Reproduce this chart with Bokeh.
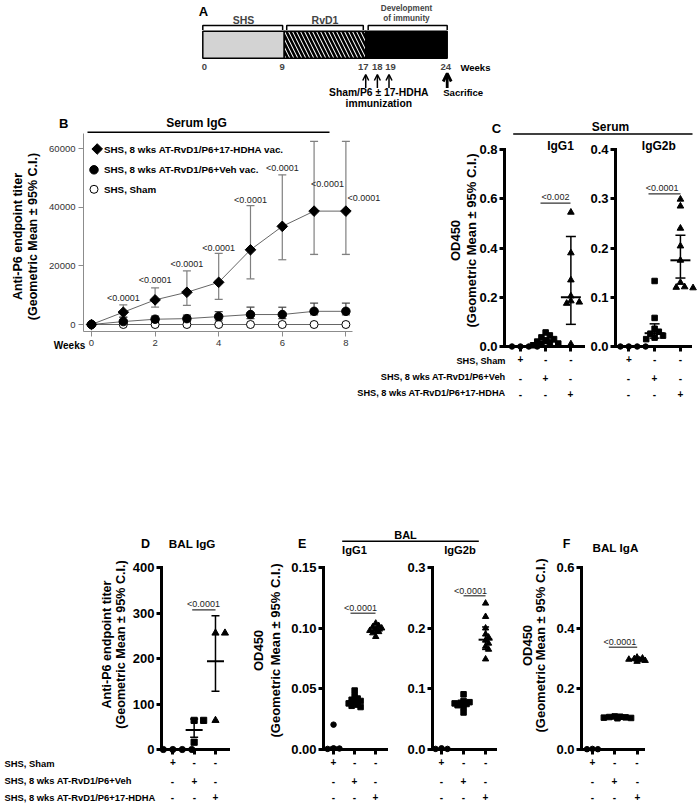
import math
import numpy as np
from bokeh.plotting import figure
from bokeh.models import (Range1d, FixedTicker, Label, ColumnDataSource, Whisker, TeeHead,
                          Arrow, OpenHead, LinearAxis, BasicTickFormatter, PrintfTickFormatter)
from bokeh.embed import file_html
from bokeh.resources import INLINE

FONT = "Liberation Sans"

# ---------------- data ----------------
# A: study timeline (weeks)
a_phase_edges = [0, 9, 17, 24]
a_phase_names = ["SHS", "RvD1"]
a_week_ticks = [0, 9, 17, 18, 19, 24]
a_immunization = [17, 18, 19]
a_sacrifice = 24

# B: serum IgG endpoint titer over time
b_weeks = [0, 1, 2, 3, 4, 5, 6, 7, 8]
b_hdha = [0, 4200, 8400, 11000, 14400, 25500, 33500, 38700, 38700]
b_hdha_lo = [0, 2400, 5900, 6500, 8600, 15600, 22100, 23900, 23900]
b_hdha_hi = [0, 6700, 12500, 18300, 24300, 40600, 51100, 62500, 62500]
b_veh = [0, 1000, 1800, 2000, 2700, 3400, 3400, 4500, 4500]
b_veh_lo = [0, 300, 900, 1100, 1500, 2000, 2000, 3300, 3300]
b_veh_hi = [0, 2500, 2900, 3200, 4400, 5900, 5900, 7300, 7300]
b_sham = [0, 0, 0, 0, 0, 0, 0, 0, 0]
b_pvals = ["<0.0001"] * 8
b_legend = ["SHS, 8 wks AT-RvD1/P6+17-HDHA vac.", "SHS, 8 wks AT-RvD1/P6+Veh vac.", "SHS, Sham"]
b_yticks = [0, 20000, 40000, 60000]
b_xticks = [0, 2, 4, 6, 8]

groups = ["SHS, Sham", "SHS, 8 wks AT-RvD1/P6+Veh", "SHS, 8 wks AT-RvD1/P6+17-HDHA"]

# C: serum IgG1 / IgG2b OD450
c1_vals = [[0, 0, 0, 0],
           [0.057, 0.045, 0.037, 0.030, 0.025, 0.020, 0.016, 0.012, 0.008, 0.005],
           [0.545, 0.38, 0.27, 0.205, 0.185, 0.18, 0.175, 0.01]]
c1_mean = [0, 0.02, 0.20]
c1_lo = [0, 0.012, 0.09]
c1_hi = [0, 0.03, 0.447]
c1_p = "<0.002"
c1_yticks = [0, 0.2, 0.4, 0.6, 0.8]

c2_vals = [[0, 0, 0, 0],
           [0.133, 0.058, 0.036, 0.030, 0.026, 0.022, 0.018, 0.015],
           [0.299, 0.285, 0.24, 0.204, 0.175, 0.13, 0.121, 0.12, 0.119]]
c2_mean = [0, 0.027, 0.175]
c2_lo = [0, 0.017, 0.139]
c2_hi = [0, 0.046, 0.226]
c2_p = "<0.0001"
c2_yticks = [0, 0.1, 0.2, 0.3, 0.4]

# D: BAL IgG titer
d_vals = [[0, 0, 0, 0],
          [64, 64, 16],
          [256, 256, 64]]
d_mean = [0, 43, 194]
d_lo = [0, 27, 128]
d_hi = [0, 67, 294]
d_p = "<0.0001"
d_yticks = [0, 100, 200, 300, 400]

# E: BAL IgG1 / IgG2b OD450
e1_vals = [[0.0205, 0.001, 0.0008, 0.0005],
           [0.0486, 0.044, 0.042, 0.041, 0.040, 0.039, 0.038, 0.037, 0.036, 0.035],
           [0.104, 0.102, 0.101, 0.100, 0.099, 0.098, 0.097, 0.096, 0.093]]
e1_mean = [0.001, 0.040, 0.098]
e1_lo = [0, 0.038, 0.096]
e1_hi = [0.002, 0.042, 0.100]
e1_p = "<0.0001"
e1_yticks = [0, 0.05, 0.10, 0.15]

e2_vals = [[0.002, 0.001, 0.001],
           [0.091, 0.080, 0.078, 0.077, 0.076, 0.075, 0.073, 0.070, 0.061],
           [0.241, 0.219, 0.200, 0.190, 0.185, 0.180, 0.175, 0.170, 0.165, 0.149]]
e2_mean = [0.001, 0.076, 0.181]
e2_lo = [0, 0.071, 0.165]
e2_hi = [0.002, 0.080, 0.202]
e2_p = "<0.0001"
e2_yticks = [0, 0.1, 0.2, 0.3]

# F: BAL IgA OD450
f_vals = [[0.002, 0.001, 0.001],
          [0.109, 0.108, 0.107, 0.106, 0.105, 0.104, 0.103],
          [0.304, 0.301, 0.299, 0.297, 0.295, 0.293, 0.290]]
f_mean = [0.001, 0.106, 0.297]
f_lo = [0, 0.104, 0.292]
f_hi = [0.002, 0.108, 0.302]
f_p = "<0.0001"
f_yticks = [0, 0.2, 0.4, 0.6]

# ---------------- page figure ----------------
W, H = 698, 805
X0, Y0 = 0, 0          # page offset of the canvas
p = figure(width=W, height=H, x_range=Range1d(X0, X0 + W), y_range=Range1d(Y0 + H, Y0),
           x_axis_location=None, y_axis_location=None, min_border=0,
           output_backend="svg", toolbar_location=None)
p.outline_line_color = None
p.xgrid.visible = False
p.ygrid.visible = False

ex, ey = {}, {}


def add_panel(name, frame, xr, yr=None):
    """frame = (left, top, right, bottom) in page px of the data area."""
    fx0, fy0, fx1, fy1 = frame
    ppx = (fx1 - fx0) / (xr[1] - xr[0])
    xs = xr[0] - (fx0 - X0) / ppx
    ex[name] = Range1d(xs, xs + W / ppx)
    ppy = None
    if yr is not None:
        ppy = (fy1 - fy0) / (yr[1] - yr[0])
        ys = yr[0] - (Y0 + H - fy1) / ppy
        ey[name] = Range1d(ys, ys + H / ppy)
    return ppx, ppy


def T(px, py, text, size, bold=True, align="center", angle=0.0, color="black"):
    p.add_layout(Label(x=px, y=py, text=text, text_font=FONT, text_font_size=f"{size}px",
                       text_font_style="bold" if bold else "normal", text_align=align,
                       text_baseline="middle", angle=angle, text_color=color))


def HL(px0, px1, py, width=1.5, color="black"):
    p.segment(x0=[px0], x1=[px1], y0=[py], y1=[py], line_width=width, line_color=color)


def swarm(vals, center, ppu_x, ppu_y, d, tight):
    placed, xs = [], []
    for v in vals:
        py = v * ppu_y
        off = 0.0
        for k in range(0, 40):
            off = 0.0 if k == 0 else ((k + 1) // 2) * (1 if k % 2 else -1) * d * tight * 0.9
            if all((off - qx) ** 2 + (py - qy) ** 2 >= (d * tight) ** 2 for qx, qy in placed):
                break
        placed.append((off, py))
        xs.append(center + off / ppu_x)
    return xs


def dot_panel(name, frame, xr, ymax, yticks, fmt, vals, mean, lo, hi,
              pbar, ptxt, ptext, row1_standoff, msize=6.5, mean_hw=10, cap=10, tight=0.85,
              tri=1.15):
    ppx, ppy = add_panel(name, frame, xr, (0, ymax))
    rn = dict(x_range_name=name, y_range_name=name)
    yax = LinearAxis(fixed_location=xr[0], bounds=(0, ymax), ticker=FixedTicker(ticks=yticks),
                     formatter=PrintfTickFormatter(format=fmt), **rn)
    xax = LinearAxis(fixed_location=0, bounds=(xr[0], xr[1]), ticker=FixedTicker(ticks=[1, 2, 3]),
                     major_label_overrides={1: "+", 2: "-", 3: "-"}, **rn)
    for ax in (xax, yax):
        ax.axis_line_width = 3
        ax.axis_line_color = "black"
        ax.axis_line_cap = "square"
        ax.major_tick_line_width = 3
        ax.major_tick_line_color = "black"
        ax.major_tick_out = 5
        ax.major_tick_in = 0
        ax.minor_tick_line_color = None
        ax.major_label_text_font = FONT
        ax.major_label_text_font_style = "bold"
        ax.major_label_text_color = "black"
    yax.major_label_text_font_size = "13px"
    yax.major_label_standoff = 2
    xax.major_label_text_font_size = "10px"
    xax.major_label_standoff = row1_standoff

    markers = ["circle", "square", "triangle"]
    for gi, vs in enumerate(vals):
        xs = swarm(vs, gi + 1, ppx, ppy, msize, tight)
        sz = msize * (tri if markers[gi] == "triangle" else 1.0)
        p.scatter(xs, vs, marker=markers[gi], size=sz, color="black", **rn)
    hw = mean_hw / ppx
    src = ColumnDataSource(dict(x=[1, 2, 3], lo=lo, hi=hi, mean=mean,
                                x0=[g - hw for g in (1, 2, 3)], x1=[g + hw for g in (1, 2, 3)]))
    p.segment(x0="x0", x1="x1", y0="mean", y1="mean", source=src, line_width=2, color="black", **rn)
    p.add_layout(Whisker(source=src, base="x", lower="lo", upper="hi", line_width=1.5,
                         line_color="black",
                         upper_head=TeeHead(size=cap, line_width=1.5, line_color="black"),
                         lower_head=TeeHead(size=cap, line_width=1.5, line_color="black"), **rn))
    p.add_layout(xax, "below")
    p.add_layout(yax, "left")
    # significance bar + p value
    HL(pbar[0], pbar[1], pbar[2], width=1.2, color="#333333")
    T(ptxt[0], ptxt[1], ptext, 9, bold=False, color="#222222")
    return ppx


def table_rows(xs_px, rows_py, size=10):
    # rows 2 and 3 of the +/- table (row 1 is the x-axis tick labels)
    for r, py in enumerate(rows_py):
        for g, px in enumerate(xs_px):
            T(round(px), round(py), "+" if (r + 1) == g else "-", size)


# ---------------- A ----------------
A_L, A_R = 202.3, 446.7
ppu_a, _ = add_panel("a", (A_L, 30.7, A_R, 57.7), (0, 3))


def wk2u(w):
    return float(np.interp(w, a_phase_edges, [0, 1, 2, 3]))


u_edges = [wk2u(w) for w in a_phase_edges]
fills = ["#d3d3d3", "white", "black"]
for i in range(3):
    kw = dict(hatch_pattern="left_diagonal_line", hatch_color="black", hatch_scale=8,
              hatch_weight=2.6) if i == 1 else {}
    p.quad(left=u_edges[i], right=u_edges[i + 1], top=30.7, bottom=57.7, fill_color=fills[i],
           line_color="black", line_width=1.5, x_range_name="a", **kw)
brk = [(u_edges[0], u_edges[1] - 0.02), (u_edges[1] + 0.03, u_edges[2] - 0.03),
       (u_edges[2] + 0.03, u_edges[3])]
p.multi_line([[a, a, b, b] for a, b in brk], [[29.5, 25, 25, 29.5]] * 3,
             line_color="black", line_width=1.5, x_range_name="a")
for i, name in enumerate(a_phase_names):
    p.add_layout(Label(x=(u_edges[i] + u_edges[i + 1]) / 2, y=19.5, text=name, text_font=FONT,
                       text_font_size="10.5px", text_font_style="bold", text_align="center",
                       text_baseline="middle", x_range_name="a"))
for j, line in enumerate(["Development", "of immunity"]):
    p.add_layout(Label(x=(u_edges[2] + u_edges[3]) / 2, y=7.5 + 10.8 * j, text=line, text_font=FONT,
                       text_font_size="8.2px", text_font_style="bold", text_align="center",
                       text_baseline="middle", x_range_name="a"))
nudge_px = {17: -2.5, 19: 1.5, 9: -2.0, 24: -1.5, 0: 1.5}
for w in a_week_ticks:
    p.add_layout(Label(x=wk2u(w) + nudge_px.get(w, 0) / ppu_a, y=66.7, text=str(w), text_font=FONT,
                       text_font_size="9.5px", text_font_style="bold", text_align="center",
                       text_baseline="middle", x_range_name="a"))
T(460, 66.7, "Weeks", 9.5, align="left")
T(203, 10.7, "A", 13)
for w in a_immunization:
    p.add_layout(Arrow(x_start=wk2u(w), y_start=87.5, x_end=wk2u(w), y_end=74, x_range_name="a",
                       line_width=1.5, end=OpenHead(size=6, line_width=1.5)))
p.add_layout(Arrow(x_start=wk2u(a_sacrifice), y_start=87.5, x_end=wk2u(a_sacrifice), y_end=73,
                   x_range_name="a", line_width=2.8, end=OpenHead(size=8, line_width=2.8)))
T(378.3, 91.7, "Sham/P6 ± 17-HDHA", 10.3)
T(378.3, 103.3, "immunization", 10.3)
T(462.7, 91.7, "Sacrifice", 9.6)

# ---------------- B ----------------
bxr, byr = (-0.2516, 8.208), (-2389, 65188)
add_panel("b", (83, 133, 352, 331), bxr, byr)
rb = dict(x_range_name="b", y_range_name="b")
bx_ax = LinearAxis(fixed_location=byr[0], bounds=bxr, ticker=FixedTicker(ticks=b_xticks), **rb)
by_ax = LinearAxis(fixed_location=bxr[0], bounds=byr, ticker=FixedTicker(ticks=b_yticks),
                   formatter=BasicTickFormatter(use_scientific=False), **rb)
for ax in (bx_ax, by_ax):
    ax.axis_line_color = "#8c8c8c"
    ax.axis_line_width = 1
    ax.major_tick_line_color = "#8c8c8c"
    ax.major_tick_out = 5
    ax.major_tick_in = 0
    ax.minor_tick_line_color = None
    ax.major_label_text_font = FONT
    ax.major_label_text_font_size = "9.5px"
    ax.major_label_text_color = "#333333"
    ax.major_label_standoff = 3
p.add_layout(bx_ax, "below")
p.add_layout(by_ax, "left")

for ys in (b_sham, b_veh, b_hdha):
    p.line(b_weeks, ys, line_color="#666666", line_width=1, **rb)
for mid, lo, hi, col in ((b_hdha, b_hdha_lo, b_hdha_hi, "#808080"),
                         (b_veh, b_veh_lo, b_veh_hi, "#444444")):
    s = ColumnDataSource(dict(x=b_weeks[1:], lo=lo[1:], hi=hi[1:]))
    p.add_layout(Whisker(source=s, base="x", lower="lo", upper="hi", line_color=col, line_width=1.2,
                         level="underlay",
                         upper_head=TeeHead(size=8, line_color=col, line_width=1.2),
                         lower_head=TeeHead(size=8, line_color=col, line_width=1.2), **rb))
p.scatter(b_weeks, b_sham, marker="circle", size=8, fill_color="white", line_color="black",
          line_width=1, **rb)
p.scatter(b_weeks, b_veh, marker="circle", size=8.5, color="black", **rb)
p.scatter(b_weeks, b_hdha, marker="square", angle=math.pi / 4, size=7.5, color="black", **rb)

b_plabel_px = [(122.8, 297), (154.6, 279), (186.4, 263), (218.2, 247), (250, 199), (281.8, 167),
               (327, 183), (347, 197)]
for i, (t, (px, py)) in enumerate(zip(b_pvals, b_plabel_px)):
    T(px, py, t, 9, bold=False, align="left" if i == 7 else "center", color="#222222")

leg_px = [(96.7, 148.5), (93.5, 169.3), (93.5, 188.8)]
p.scatter([leg_px[0][0]], [leg_px[0][1]], marker="square", angle=math.pi / 4, size=7.5, color="black")
p.scatter([leg_px[1][0]], [leg_px[1][1]], marker="circle", size=8.5, color="black")
p.scatter([leg_px[2][0]], [leg_px[2][1]], marker="circle", size=8, fill_color="white",
          line_color="black")
for t, (px, py) in zip(b_legend, leg_px):
    T(103.5, py, t, 9.8, align="left")

T(63.3, 123.3, "B", 13)
T(196, 122.7, "Serum IgG", 12)
HL(87, 329, 131.7)
T(69, 345, "Weeks", 10)
T(17, 236, "Anti-P6 endpoint titer", 12.5, angle=math.pi / 2)
T(32, 236, "(Geometric Mean ± 95% C.I.)", 12.5, angle=math.pi / 2)

# ---------------- C ----------------
c_rows = [360, 376.7, 392.7]
dot_panel("c1", (504, 149, 583, 346), (0.37, 3.5), 0.8, c1_yticks, "%.1f", c1_vals, c1_mean,
          c1_lo, c1_hi, (540, 570, 202.7), (555, 196.5), c1_p, row1_standoff=3, msize=5.5,
          tri=1.2)
dot_panel("c2", (615, 149, 690, 346), (0.485, 3.39), 0.4, c2_yticks, "%.1f", c2_vals, c2_mean,
          c2_lo, c2_hi, (648, 680, 193.3), (661.7, 187.5), c2_p, row1_standoff=3, msize=5.5,
          tri=1.2)
T(496, 128.3, "C", 13)
T(610, 126, "Serum", 12)
HL(512.7, 692, 133.5)
T(560, 145, "IgG1", 12)
T(658.3, 145, "IgG2b", 12)
T(455, 240, "OD450", 13, angle=math.pi / 2)
T(471, 240, "(Geometric Mean ± 95% C.I.)", 13, angle=math.pi / 2)
for g, py in zip(groups, c_rows):
    T(505, py, g, 9.2, align="right")
table_rows([520, 545.2, 570.4], c_rows[1:])
table_rows([628.3, 654, 679.8], c_rows[1:])

# ---------------- D / E / F ----------------
bottom_rows = [763.3, 780, 796.5]
dot_panel("d", (161, 567, 228, 749), (0.47, 3.61), 400, d_yticks, "%d", d_vals, d_mean, d_lo, d_hi,
          (191.7, 215, 609.3), (203, 603.5), d_p, row1_standoff=3, msize=6.2, mean_hw=8.5, cap=8)
T(145, 543.3, "D", 12.5)
T(191.7, 543.3, "BAL IgG", 11.7)
T(106, 644, "Anti-P6 endpoint titer", 12.6, angle=math.pi / 2)
T(120, 644, "(Geometric Mean ± 95% C.I.)", 12.6, angle=math.pi / 2)
for g, py in zip(groups, bottom_rows):
    T(4, py, g, 9.4, align="left")
table_rows([172.3, 193.6, 214.9], bottom_rows[1:])

dot_panel("e1", (323, 567, 386, 749), (0.524, 3.51), 0.15, e1_yticks, "%.2f", e1_vals, e1_mean,
          e1_lo, e1_hi, (350, 375, 612.7), (360, 607), e1_p, row1_standoff=3, msize=5.5,
          mean_hw=7, cap=7, tight=0.6)
dot_panel("e2", (432, 567, 495, 749), (0.59, 3.45), 0.3, e2_yticks, "%.1f", e2_vals, e2_mean,
          e2_lo, e2_hi, (463, 485, 595.3), (470, 590), e2_p, row1_standoff=3, msize=5.5,
          mean_hw=7, cap=7, tight=0.6)
T(301.7, 543.3, "E", 12.5)
T(405, 534, "BAL", 11)
HL(341.7, 478.3, 540.7)
T(354, 549.3, "IgG1", 11.2)
T(459.5, 549.3, "IgG2b", 11.2)
T(258.3, 650, "OD450", 13, angle=math.pi / 2)
T(275, 650, "(Geometric Mean ± 95% C.I.)", 13, angle=math.pi / 2)
table_rows([333.3, 354.3, 375.3], bottom_rows[1:])
table_rows([441, 463, 485], bottom_rows[1:])

dot_panel("f", (581, 567, 643, 749), (0.51, 3.29), 0.6, f_yticks, "%.1f", f_vals, f_mean, f_lo, f_hi,
          (608.3, 636.7, 646.7), (619.3, 641.5), f_p, row1_standoff=3, msize=5.5, mean_hw=7,
          cap=7, tight=0.55)
T(566, 543.3, "F", 12.5)
T(615, 546.7, "BAL IgA", 11.7)
T(526.7, 645, "OD450", 13, angle=math.pi / 2)
T(540, 645, "(Geometric Mean ± 95% C.I.)", 13, angle=math.pi / 2)
table_rows([592, 614.3, 636.6], bottom_rows[1:])

p.extra_x_ranges = ex
p.extra_y_ranges = ey

open("out.html", "w").write(file_html(p, INLINE))
